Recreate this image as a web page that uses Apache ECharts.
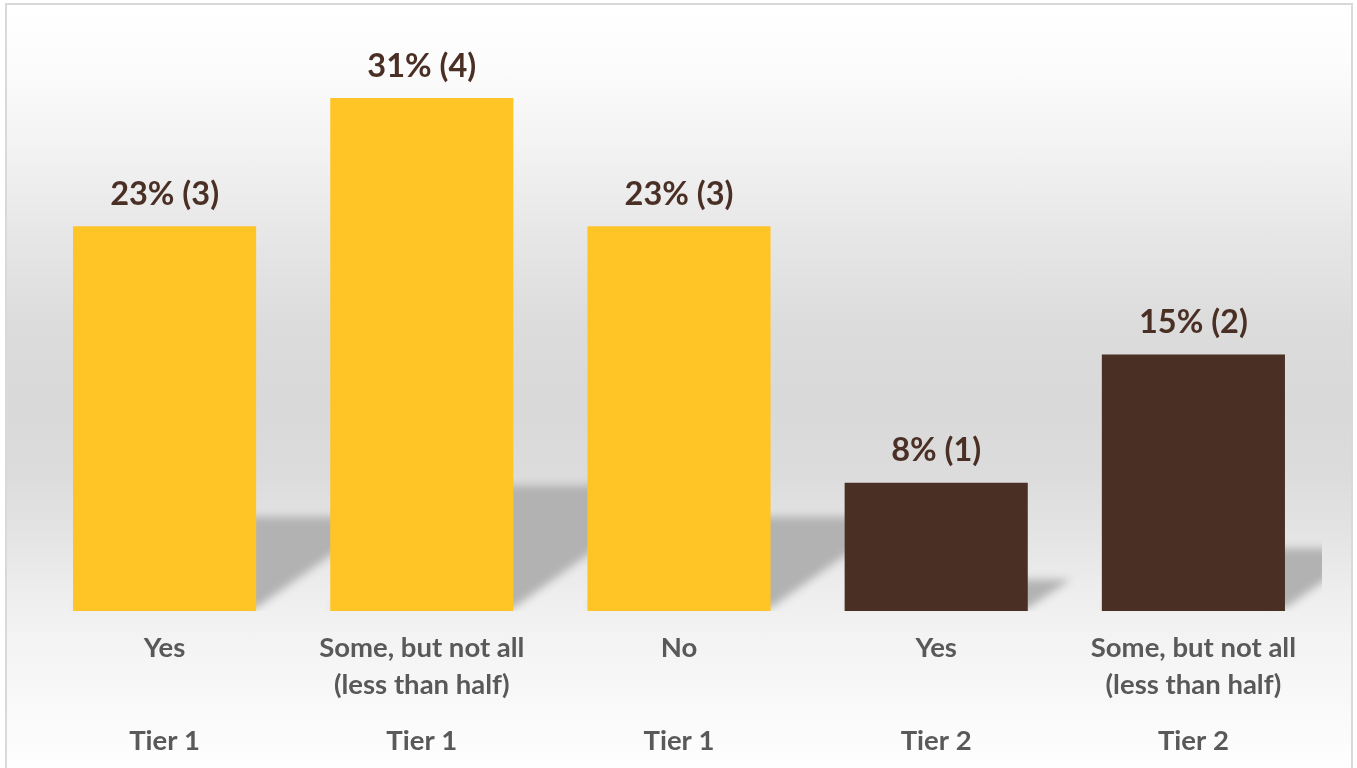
<!DOCTYPE html>
<html>
<head>
<meta charset="utf-8">
<script src="https://cdn.jsdelivr.net/npm/echarts@6/dist/echarts.min.js"></script>
<style>
  html, body { margin: 0; padding: 0; width: 1357px; height: 768px; background: #ffffff; overflow: hidden; }
  #frame {
    position: absolute; left: 5px; top: 3px; width: 1348px; height: 790px;
    box-sizing: border-box; border: 2px solid #d9d9d9;
    background: linear-gradient(to bottom,
      #ffffff 0px, #fcfcfc 60px, #f3f3f3 140px, #e8e8e8 220px,
      #dcdcdc 320px, #d9d9d9 400px, #dcdcdc 470px, #e4e4e4 530px,
      #eeeeee 590px, #f3f3f3 630px, #f9f9f9 700px, #fefefe 765px);
  }
  #chart { position: absolute; left: 0; top: 0; width: 1357px; height: 768px; }
</style>
</head>
<body>
<div id="frame"></div>
<div id="chart"></div>
<script>
// Survey answers, grouped by tier
const categories = ['Yes', 'Some, but not all\n(less than half)', 'No', 'Yes', 'Some, but not all\n(less than half)'];
const tiers = ['Tier 1', 'Tier 1', 'Tier 1', 'Tier 2', 'Tier 2'];
const counts = [3, 4, 3, 1, 2];
const percents = [23, 31, 23, 8, 15];

const tierColors = { 'Tier 1': '#ffc425', 'Tier 2': '#4a2f25' };
const FONT = 'Lato, "Open Sans", sans-serif';
const BAR_RATIO = 0.712;
const SHIFT = 3000; // shape drawn off to the side so only its blurred shadow shows

const chart = echarts.init(document.getElementById('chart'));

// Soft perspective shadow cast up and to the right of each bar
function renderShadow(params, api) {
  const idx = api.value(0);
  const val = api.value(1);
  const base = api.coord([idx, 0]);
  const top = api.coord([idx, val]);
  const half = api.size([1, 0])[0] * BAR_RATIO / 2;
  const h = base[1] - top[1];
  const dx = h * 0.335;
  const dy = h * 0.245;
  const x0 = base[0] - half - SHIFT, x1 = base[0] + half - SHIFT, yb = base[1];
  return {
    type: 'polygon',
    shape: { points: [[x0, yb - 3], [x1, yb - 3], [x1 + dx, yb - dy], [x0 + dx, yb - dy]] },
    style: {
      fill: '#000000',
      shadowBlur: 9,
      shadowOffsetX: SHIFT,
      shadowOffsetY: 0,
      shadowColor: 'rgba(178,178,178,1)'
    }
  };
}

chart.setOption({
  backgroundColor: 'transparent',
  animation: false,
  grid: { left: 36, right: 35, top: 34, bottom: 157 },
  xAxis: [
    {
      type: 'category',
      position: 'bottom',
      data: categories,
      axisLine: { show: false },
      axisTick: { show: false },
      axisLabel: {
        interval: 0, margin: 19, color: '#595959', fontFamily: FONT,
        fontWeight: 'bold', fontSize: 27.5, lineHeight: 37
      }
    },
    {
      type: 'category',
      position: 'bottom',
      data: tiers,
      axisLine: { show: false },
      axisTick: { show: false },
      axisLabel: {
        interval: 0, margin: 112, color: '#595959', fontFamily: FONT,
        fontWeight: 'bold', fontSize: 27.5, lineHeight: 37
      }
    }
  ],
  yAxis: { type: 'value', min: 0, max: 4.5, show: false, splitLine: { show: false } },
  series: [
    {
      type: 'custom',
      xAxisIndex: 0,
      z: 1,
      clip: true,
      silent: true,
      renderItem: renderShadow,
      data: counts.map((c, i) => [i, c])
    },
    {
      type: 'bar',
      xAxisIndex: 0,
      z: 3,
      barWidth: (BAR_RATIO * 100) + '%',
      data: counts.map((c, i) => ({ value: c, itemStyle: { color: tierColors[tiers[i]] } })),
      label: {
        show: true,
        position: 'top',
        distance: 12,
        color: '#4a2f25',
        fontFamily: FONT,
        fontWeight: 'bold',
        fontSize: 32.5,
        lineHeight: 40,
        formatter: p => percents[p.dataIndex] + '% (' + counts[p.dataIndex] + ')'
      }
    }
  ]
});
</script>
</body>
</html>
